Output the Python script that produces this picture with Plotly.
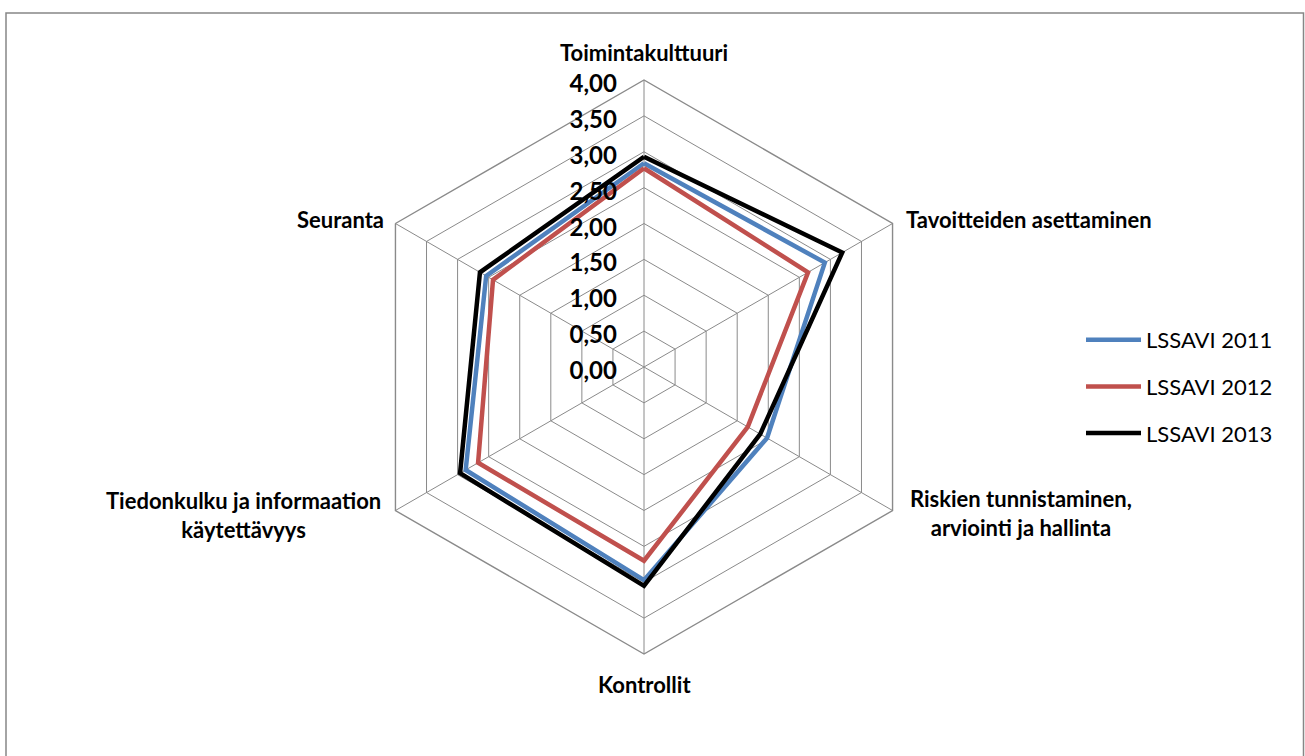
import math
import plotly.graph_objects as go

categories = ["Toimintakulttuuri", "Tavoitteiden asettaminen",
              "Riskien tunnistaminen,<br>arviointi ja hallinta", "Kontrollit",
              "Tiedonkulku ja informaation<br>käytettävyys", "Seuranta"]
series_names = ["LSSAVI 2011", "LSSAVI 2012", "LSSAVI 2013"]
values_2011 = [2.84, 2.91, 1.98, 2.97, 2.87, 2.54]
values_2012 = [2.77, 2.64, 1.67, 2.70, 2.67, 2.43]
values_2013 = [2.93, 3.19, 1.87, 3.05, 2.96, 2.64]
colors = ["#4F81BD", "#C0504D", "#000000"]
tick_vals = [0, 0.5, 1, 1.5, 2, 2.5, 3, 3.5, 4]

W, H = 1305, 756
cx, cy, R = 644, 367, 287
FONT = "Lato, 'Open Sans', sans-serif"
GRID = "#8A8A8A"

fig = go.Figure()
for name, vals, col in zip(series_names, [values_2011, values_2012, values_2013], colors):
    fig.add_trace(go.Scatterpolar(
        r=vals + vals[:1], theta=categories + categories[:1],
        mode="lines", name=name, legendgroup=name,
        line=dict(color=col, width=4.5),
    ))

# category labels placed just outside the hexagon vertices
label_style = [  # (dx, dy, xanchor)
    (0, -28, "center"),
    (11, -4, "left"),
    (15, 2, "left"),
    (0, 30, "center"),
    (-12, 4, "right"),
    (-9, -4, "right"),
]
annotations = []
for i, (cat, (dx, dy, xa)) in enumerate(zip(categories, label_style)):
    ang = math.radians(90 - 60 * i)
    vx = cx + R * math.cos(ang)
    vy = cy - R * math.sin(ang)
    annotations.append(dict(
        text=cat, xref="paper", yref="paper",
        x=(vx + dx) / W, y=1 - (vy + dy) / H,
        xanchor=xa, yanchor="middle", align="center", showarrow=False,
        font=dict(family=FONT, size=22, weight="bold", color="#000000"),
    ))

fig.update_layout(
    width=W, height=H,
    margin=dict(l=0, r=0, t=0, b=0),
    paper_bgcolor="white", plot_bgcolor="white",
    separators=", ",
    font=dict(family=FONT, color="#000000"),
    polar=dict(
        domain=dict(x=[(cx - R) / W, (cx + R) / W], y=[1 - (cy + R) / H, 1 - (cy - R) / H]),
        gridshape="linear",
        bgcolor="white",
        radialaxis=dict(
            range=[0, 4], tickvals=tick_vals, tickformat=".2f",
            angle=90, side="counterclockwise",
            showline=False, ticks="outside", ticklen=5, tickcolor="rgba(0,0,0,0)",
            gridcolor=GRID, gridwidth=1.4,
            tickfont=dict(size=24, weight="bold", color="#000000"),
        ),
        angularaxis=dict(
            rotation=90, direction="clockwise",
            showline=True, linecolor=GRID, linewidth=1.4,
            gridcolor=GRID, gridwidth=1.4, ticks="",
            showticklabels=False,
        ),
    ),
    legend=dict(
        x=1081 / W, y=1 - 319 / H, xanchor="left", yanchor="top",
        font=dict(size=22, family=FONT),
        itemwidth=55, tracegroupgap=15, bgcolor="rgba(0,0,0,0)",
    ),
    annotations=annotations,
    shapes=[dict(type="rect", xref="paper", yref="paper",
                 x0=6 / W, x1=1303.5 / W, y0=-0.02, y1=1 - 13 / H,
                 line=dict(color="#868686", width=1.5))],
)

fig.write_html("out.html", config={"displayModeBar": False},
               post_script="document.body.style.margin='0';")
